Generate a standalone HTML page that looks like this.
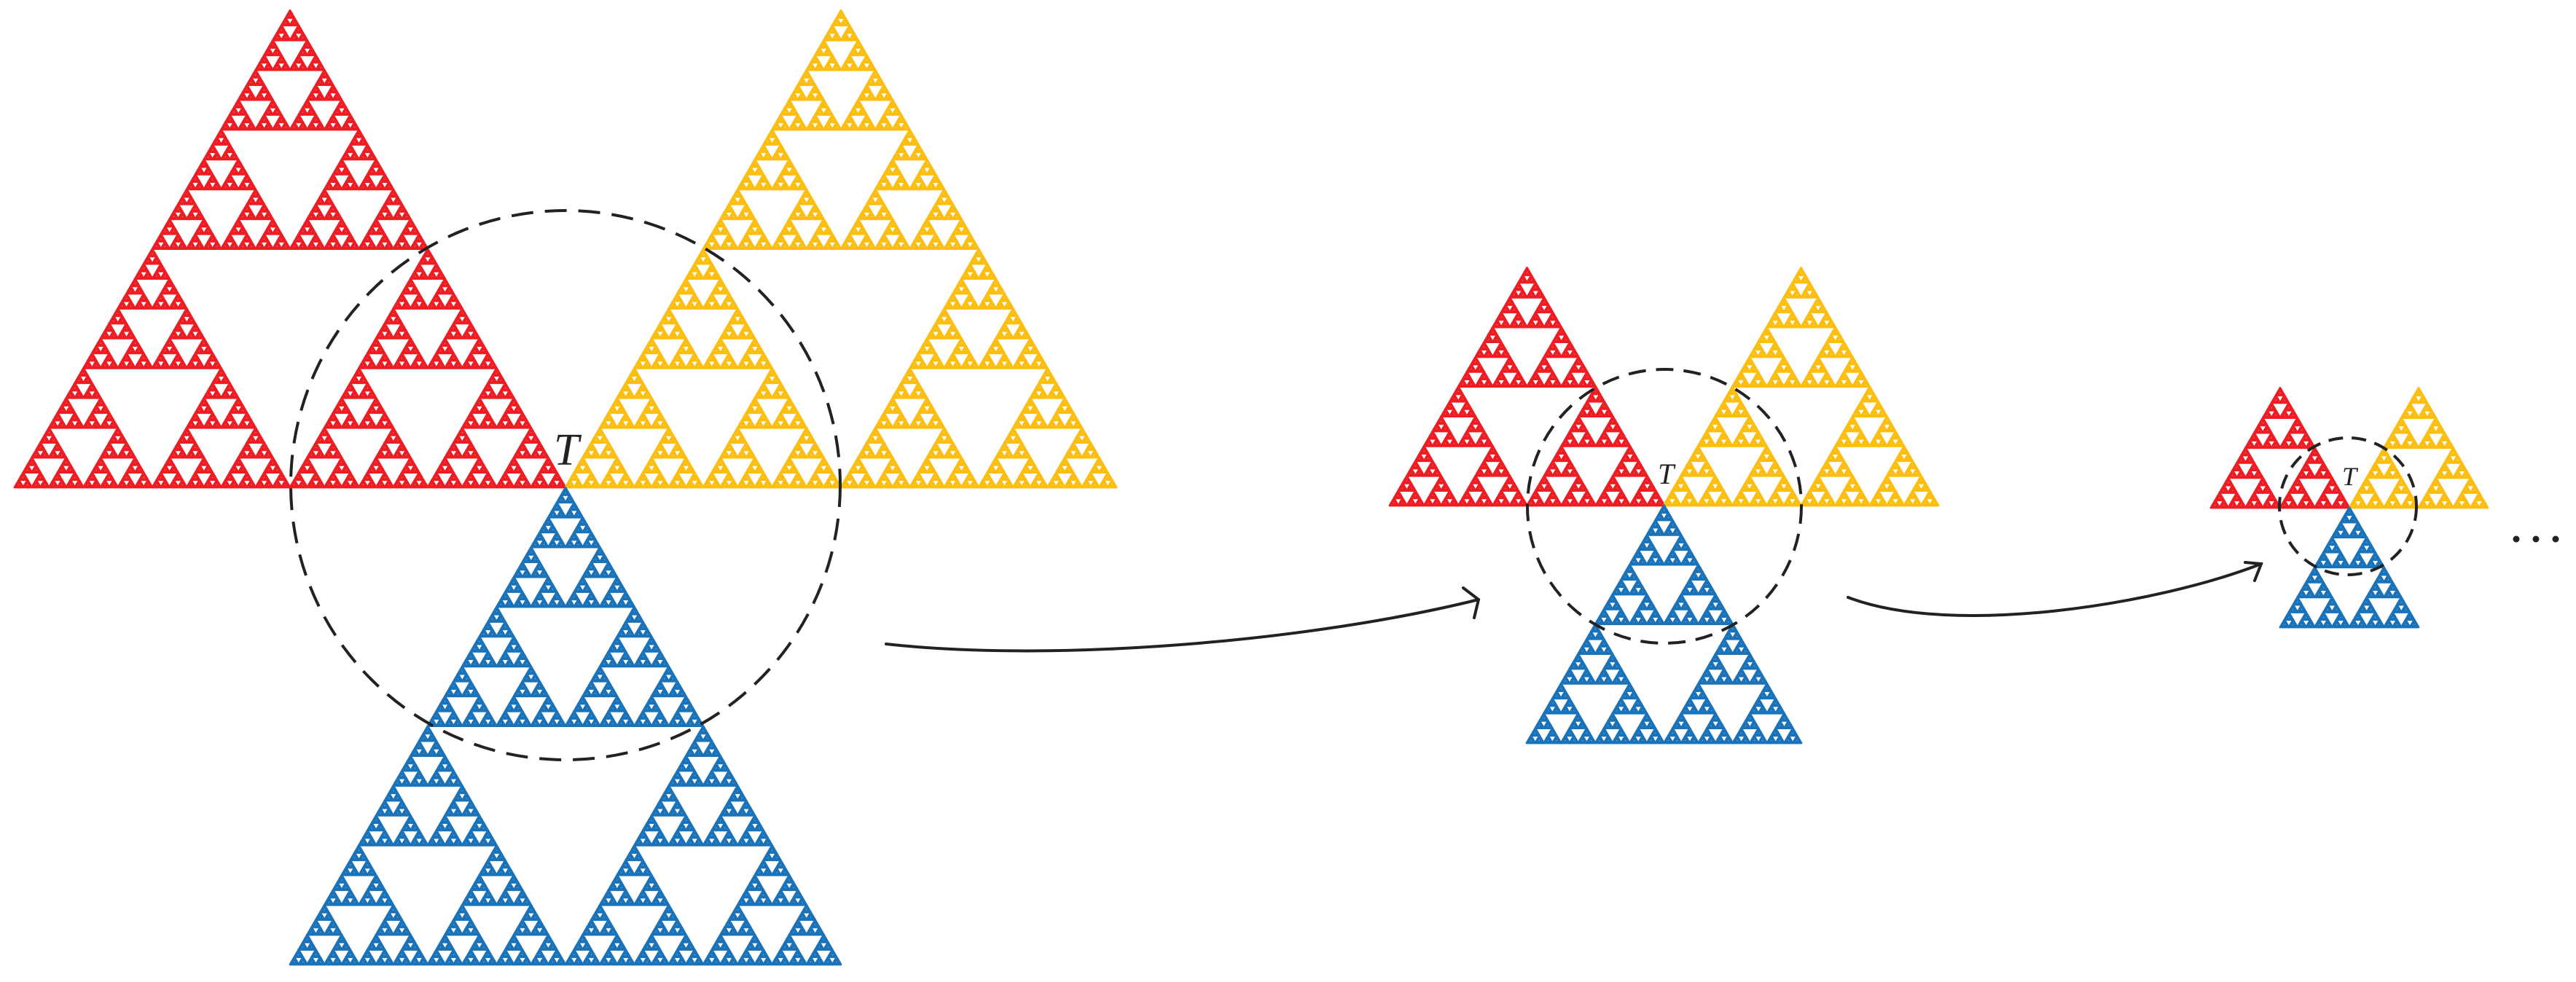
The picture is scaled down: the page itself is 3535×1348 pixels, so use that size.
<!DOCTYPE html>
<html><head><meta charset="utf-8"><style>html,body{margin:0;padding:0;background:#fff}svg{display:block}</style></head><body>
<svg width="3535" height="1348" viewBox="0 0 3535 1348" xmlns="http://www.w3.org/2000/svg">
<defs>
<g id="L0"><path d="M0 0L1 0L0.5 -0.866Z" stroke-width="2.8" vector-effect="non-scaling-stroke" stroke-linejoin="round"/></g>
<g id="L1"><use href="#L0" transform="scale(.5)"/><use href="#L0" transform="translate(.5 0) scale(.5)"/><use href="#L0" transform="translate(.25 -.433) scale(.5)"/></g>
<g id="L2"><use href="#L1" transform="scale(.5)"/><use href="#L1" transform="translate(.5 0) scale(.5)"/><use href="#L1" transform="translate(.25 -.433) scale(.5)"/></g>
<g id="L3"><use href="#L2" transform="scale(.5)"/><use href="#L2" transform="translate(.5 0) scale(.5)"/><use href="#L2" transform="translate(.25 -.433) scale(.5)"/></g>
<g id="L4"><use href="#L3" transform="scale(.5)"/><use href="#L3" transform="translate(.5 0) scale(.5)"/><use href="#L3" transform="translate(.25 -.433) scale(.5)"/></g>
<g id="L5"><use href="#L4" transform="scale(.5)"/><use href="#L4" transform="translate(.5 0) scale(.5)"/><use href="#L4" transform="translate(.25 -.433) scale(.5)"/></g>
<g id="L6"><use href="#L5" transform="scale(.5)"/><use href="#L5" transform="translate(.5 0) scale(.5)"/><use href="#L5" transform="translate(.25 -.433) scale(.5)"/></g>
<g id="L7"><use href="#L6" transform="scale(.5)"/><use href="#L6" transform="translate(.5 0) scale(.5)"/><use href="#L6" transform="translate(.25 -.433) scale(.5)"/></g>
</defs>

<g fill="#ee1d23" stroke="#ee1d23"><use href="#L7" transform="translate(20 669) scale(756)"/></g>
<g fill="#fdbe12" stroke="#fdbe12"><use href="#L7" transform="translate(776 669) scale(756)"/></g>
<g fill="#1a72b9" stroke="#1a72b9"><use href="#L7" transform="translate(398 1324) scale(756)"/></g>
<circle cx="776" cy="666" r="377" fill="none" stroke="#222" stroke-width="4" stroke-dasharray="30 16"/>
<text x="760" y="638" font-family="Liberation Serif, serif" font-style="italic" font-size="62" fill="#222">T</text>

<g fill="#ee1d23" stroke="#ee1d23"><use href="#L6" transform="translate(1907 694) scale(377)"/></g>
<g fill="#fdbe12" stroke="#fdbe12"><use href="#L6" transform="translate(2283 694) scale(377)"/></g>
<g fill="#1a72b9" stroke="#1a72b9"><use href="#L6" transform="translate(2095 1020) scale(377)"/></g>
<circle cx="2284" cy="695" r="188" fill="none" stroke="#222" stroke-width="4" stroke-dasharray="24 14"/>
<text x="2275" y="664" font-family="Liberation Serif, serif" font-style="italic" font-size="40" fill="#222">T</text>

<g fill="#ee1d23" stroke="#ee1d23"><use href="#L5" transform="translate(3034 697) scale(190)"/></g>
<g fill="#fdbe12" stroke="#fdbe12"><use href="#L5" transform="translate(3224 697) scale(190)"/></g>
<g fill="#1a72b9" stroke="#1a72b9"><use href="#L5" transform="translate(3129 861) scale(190)"/></g>
<circle cx="3222" cy="695" r="94" fill="none" stroke="#222" stroke-width="4" stroke-dasharray="20 12"/>
<text x="3214" y="666" font-family="Liberation Serif, serif" font-style="italic" font-size="36" fill="#222">T</text>

<g fill="none" stroke="#222" stroke-width="4" stroke-linecap="round">
<path d="M1216 884 C1450 910 1800 880 2029 823"/>
<path d="M2008 807 L2029 823 L2023 848"/>
<path d="M2536 820 C2680 875 2960 830 3103 774"/>
<path d="M3081 772 L3103 774 L3094 797"/>
</g>
<g fill="#222"><circle cx="3453" cy="740" r="4.5"/><circle cx="3480" cy="740" r="4.5"/><circle cx="3507" cy="740" r="4.5"/></g>
</svg>
</body></html>
